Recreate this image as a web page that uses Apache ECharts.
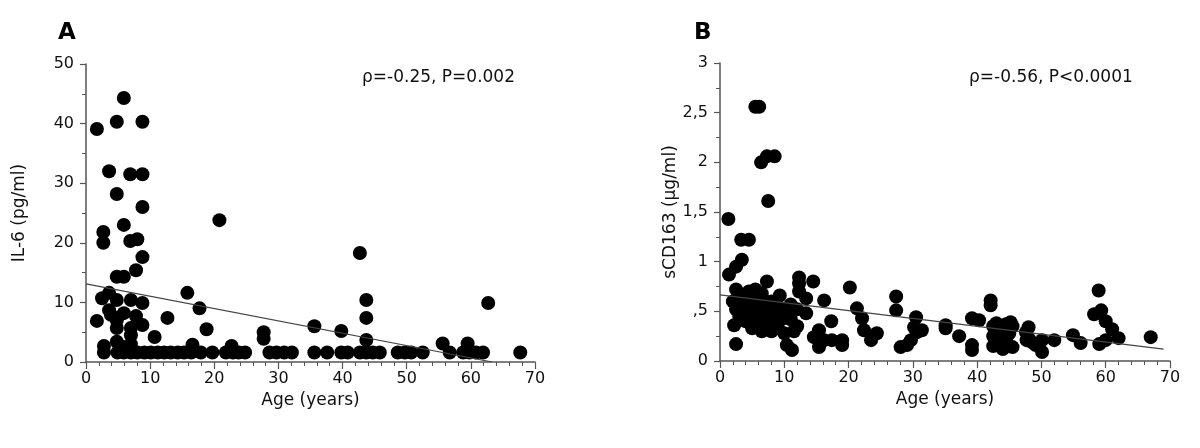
<!DOCTYPE html>
<html>
<head>
<meta charset="utf-8">
<script src="https://cdn.jsdelivr.net/npm/echarts@6/dist/echarts.min.js"></script>
<style>
  html, body { margin: 0; padding: 0; background: #fff; }
  #chart { width: 1200px; height: 448px; }
</style>
</head>
<body>
<div id="chart"></div>
<script>
// panel A: age vs IL-6
const pointsA = [
  [1.7, 39.1], [4.8, 40.3], [5.9, 44.3], [8.8, 40.3],
  [3.6, 32], [6.9, 31.5], [8.8, 31.5],
  [4.8, 28.2], [8.8, 26], [5.9, 23],
  [2.7, 21.8], [2.7, 20], [6.9, 20.3], [8, 20.6],
  [8.8, 17.6], [7.8, 15.4], [4.8, 14.3], [5.9, 14.3],
  [20.8, 23.8], [15.8, 11.6], [17.7, 9.0], [18.8, 5.5], [12.7, 7.4], [10.7, 4.2],
  [3.6, 11.6], [2.5, 10.7], [4.8, 10.4], [7, 10.4], [8.8, 9.9],
  [3.6, 8.7], [3.9, 7.9], [5.9, 8.2], [7.8, 7.7], [1.7, 6.9], [4.8, 7], [8.8, 6.2],
  [4.8, 5.7], [7, 5.7], [7, 4.5], [4.8, 3.4], [2.8, 2.7], [16.6, 2.9], [7, 3], [5.9, 2.5],
  [22.7, 2.7], [27.7, 5], [27.7, 3.9], [35.6, 6], [39.8, 5.2], [42.7, 18.3],
  [43.7, 10.4], [43.7, 7.4], [43.7, 3.7], [55.6, 3.1], [59.5, 3.1], [62.7, 9.9]
]
// points sitting on the detection limit
const baseAgesA = [2.8, 4.9, 5.9, 7, 8, 9.1, 10.1, 11.2, 12.2, 13.2, 14.3, 15.3, 16.4, 17.9,
  19.7, 21.8, 22.9, 23.8, 24.8, 28.6, 29.7, 30.9, 32.1, 35.6, 37.6, 39.8, 40.8, 42.7,
  43.7, 44.7, 45.8, 48.6, 49.7, 50.7, 52.5, 56.7, 58.8, 59.8, 60.8, 61.9, 67.7]
const baseValA = 1.6
const trendA = [[0, 13.1], [63.3, 0]]

// panel B: age vs sCD163
const pointsB = [
  [5.5, 2.56], [6.1, 2.56], [6.4, 2.0], [7.3, 2.06], [8.5, 2.06], [7.5, 1.61],
  [1.3, 1.43], [1.4, 0.87], [2.5, 0.95], [3.4, 1.02], [3.3, 1.22], [4.5, 1.22],
  [7.3, 0.8], [12.3, 0.84], [12.3, 0.78], [12.3, 0.7], [14.5, 0.8], [20.2, 0.74],
  [2.5, 0.72], [2.5, 0.17], [16.2, 0.61], [17.3, 0.4], [9.3, 0.66], [13.4, 0.63], [13.4, 0.48],
  [21.3, 0.53], [22.1, 0.43], [22.4, 0.31], [23.5, 0.21], [24.4, 0.28],
  [16.2, 0.21], [17.4, 0.21], [19, 0.21], [19, 0.16], [15.4, 0.31], [14.6, 0.24], [15.4, 0.14],
  [10.4, 0.16], [11.2, 0.11],
  [2, 0.6], [2.5, 0.52], [2.2, 0.36], [3, 0.45], [3, 0.6], [3.5, 0.5], [4, 0.4], [4, 0.55],
  [4, 0.65], [4.5, 0.7], [4.5, 0.48], [5, 0.33], [5, 0.58], [5, 0.45], [5.5, 0.62], [5.5, 0.72],
  [6, 0.38], [6, 0.5], [6.5, 0.3], [6.5, 0.55], [6.5, 0.68], [7, 0.45], [7, 0.6], [7.5, 0.35],
  [7.5, 0.52], [8, 0.3], [8, 0.42], [8, 0.6], [8.5, 0.5], [9, 0.33], [9, 0.55], [9.5, 0.42],
  [10, 0.28], [10.5, 0.5], [11, 0.42], [11, 0.57], [11.5, 0.3], [12, 0.35], [12, 0.52],
  [27.4, 0.65], [27.4, 0.51], [28.1, 0.14], [29.1, 0.16], [30.5, 0.44], [30.2, 0.34],
  [30.6, 0.29], [31.4, 0.31], [29.7, 0.21],
  [35.1, 0.36], [35.1, 0.33], [37.2, 0.25], [39.2, 0.43], [40.3, 0.41], [39.2, 0.16], [39.2, 0.11],
  [42.1, 0.61], [42.1, 0.56],
  [42.5, 0.35], [42.5, 0.25], [42.5, 0.15], [43.5, 0.3], [44, 0.18], [44.5, 0.37], [44.5, 0.22],
  [45, 0.28], [45.5, 0.35], [45.5, 0.14], [43, 0.38], [44, 0.12], [45.2, 0.39],
  [47.6, 0.29], [47.7, 0.21], [48, 0.34], [48, 0.23], [49.1, 0.16], [50.1, 0.09], [50.1, 0.21],
  [48.5, 0.19], [52, 0.21], [54.9, 0.26], [56.1, 0.18],
  [58.9, 0.71], [58.2, 0.47], [59.3, 0.51], [60, 0.4], [61, 0.32], [59, 0.17], [60, 0.21],
  [62, 0.23], [67, 0.24]
]
const trendB = [[0, 0.665], [69, 0.12]]

const yLabelsB = ['0', ',5', '1', '1,5', '2', '2,5', '3']

// the figure's text is a bit wide, DejaVu fits it better than Arial
const font = "'DejaVu Sans', 'Liberation Sans', Arial, sans-serif"
const axisColor = '#555'

const chart = echarts.init(document.getElementById('chart'))

const xAxisBase = (gridIndex) => ({
  type: 'value',
  gridIndex,
  min: 0,
  max: 70,
  interval: 10,
  name: 'Age (years)',
  nameLocation: 'middle',
  nameGap: 30,
  nameTextStyle: { color: '#111', fontSize: 17, fontFamily: font },
  axisLine: { show: true, onZero: false, lineStyle: { color: axisColor, width: 1.5 } },
  axisTick: { show: true, length: 7, lineStyle: { color: axisColor, width: 1.2 } },
  minorTick: { show: true, splitNumber: 5, length: 4, lineStyle: { color: axisColor, width: 1 } },
  axisLabel: { color: '#111', fontSize: 16, fontFamily: font, margin: 9 },
  splitLine: { show: false }
})

const yAxisBase = (gridIndex) => ({
  type: 'value',
  gridIndex,
  min: 0,
  nameLocation: 'middle',
  nameGap: 58,
  nameTextStyle: { color: '#111', fontSize: 17, fontFamily: font },
  axisLine: { show: true, lineStyle: { color: axisColor, width: 1.5 } },
  axisTick: { show: true, length: 6, lineStyle: { color: axisColor, width: 1.2 } },
  minorTick: { show: true, splitNumber: 2, length: 4, lineStyle: { color: axisColor, width: 1 } },
  axisLabel: { color: '#111', fontSize: 16, fontFamily: font, margin: 12 },
  splitLine: { show: false }
})

const dots = (xi, data) => ({
  type: 'scatter',
  xAxisIndex: xi,
  yAxisIndex: xi,
  data,
  symbol: 'circle',
  symbolSize: 14,
  itemStyle: { color: '#000', opacity: 1 },
  silent: true
})

const option = {
  animation: false,
  title: [
    { text: 'A', left: 53, top: 17, textStyle: { fontSize: 23, fontWeight: 'bold', color: '#000', fontFamily: font } },
    { text: 'B', left: 689, top: 17, textStyle: { fontSize: 23, fontWeight: 'bold', color: '#000', fontFamily: font } },
    { text: 'ρ=-0.25, P=0.002', left: 357, top: 64, textStyle: { fontSize: 17, fontWeight: 'normal', color: '#111', fontFamily: font } },
    { text: 'ρ=-0.56, P<0.0001', left: 964, top: 64, textStyle: { fontSize: 17, fontWeight: 'normal', color: '#111', fontFamily: font } }
  ],
  grid: [
    { left: 86, top: 64, width: 449, height: 298 },
    { left: 720, top: 63, width: 450, height: 298 }
  ],
  xAxis: [xAxisBase(0), xAxisBase(1)],
  yAxis: [
    Object.assign(yAxisBase(0), { max: 50, interval: 10, name: 'IL-6 (pg/ml)' }),
    Object.assign(yAxisBase(1), {
      max: 3,
      interval: 0.5,
      name: 'sCD163 (µg/ml)',
      nameGap: 28,
      axisLabel: {
        color: '#111', fontSize: 16, fontFamily: font, margin: 12,
        formatter: (v) => yLabelsB[Math.round(v * 2)]
      }
    })
  ],
  series: [
    dots(0, pointsA.concat(baseAgesA.map(a => [a, baseValA]))),
    {
      type: 'line', xAxisIndex: 0, yAxisIndex: 0, data: trendA,
      symbol: 'none', lineStyle: { color: '#444', width: 1.2 }, z: 3, silent: true
    },
    dots(1, pointsB),
    {
      type: 'line', xAxisIndex: 1, yAxisIndex: 1, data: trendB,
      symbol: 'none', lineStyle: { color: '#444', width: 1.2 }, z: 3, silent: true
    }
  ]
}

chart.setOption(option)
</script>
</body>
</html>
